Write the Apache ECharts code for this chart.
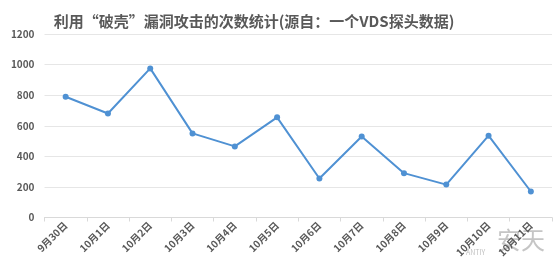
<!DOCTYPE html>
<html>
<head>
<meta charset="utf-8">
<script src="https://cdn.jsdelivr.net/npm/echarts@6/dist/echarts.min.js"></script>
<style>html,body{margin:0;padding:0;background:#fff}#c{width:559px;height:271px}</style>
</head>
<body>
<div id="c"></div>
<script>
var titleText = '利用“破壳”漏洞攻击的次数统计(源自：一个VDS探头数据)';
var categories = ['9月30日','10月1日','10月2日','10月3日','10月4日','10月5日','10月6日','10月7日','10月8日','10月9日','10月10日','10月11日'];
var values = [790, 680, 975, 550, 465, 655, 255, 530, 290, 215, 535, 170];
var yTicks = [0, 200, 400, 600, 800, 1000, 1200];

var chart = echarts.init(document.getElementById('c'), null, {renderer: 'canvas'});
var font = '"Noto Sans CJK SC", "Liberation Sans", sans-serif';
chart.setOption({
  animation: false,
  backgroundColor: '#fff',
  title: {
    text: titleText,
    left: 249, top: 9, textAlign: 'center',
    textStyle: {fontSize: 15, fontWeight: 'bold', color: '#595959', fontFamily: font}
  },
  grid: {left: 44.5, right: 7, top: 34, bottom: 53.5, containLabel: false},
  xAxis: {
    type: 'category',
    data: categories,
    boundaryGap: true,
    axisLine: {lineStyle: {color: '#d9d9d9', width: 1}},
    axisTick: {show: true, length: 4, alignWithLabel: false, lineStyle: {color: '#d9d9d9'}},
    axisLabel: {rotate: 45, interval: 0, fontSize: 10, fontWeight: 'bold', color: '#595959', fontFamily: font, margin: 6}
  },
  yAxis: {
    type: 'value',
    min: yTicks[0], max: yTicks[yTicks.length-1], interval: 200,
    axisLine: {show: false},
    axisTick: {show: false},
    splitLine: {lineStyle: {color: '#e6e6e6', width: 1}},
    axisLabel: {fontSize: 10, fontWeight: 'bold', color: '#595959', fontFamily: font, margin: 10,
      formatter: function (v) { return String(v); }}
  },
  series: [{
    type: 'line',
    data: values,
    symbol: 'circle',
    symbolSize: 6,
    lineStyle: {color: '#4f91d3', width: 2},
    itemStyle: {color: '#4f91d3'}
  }],
  graphic: [
    {type: 'text', left: 497, top: 228, style: {text: '安天', fontSize: 24, fill: 'rgba(150,150,150,0.55)', fontFamily: font}},
    {type: 'text', left: 466, top: 249, style: {text: 'ANTIY', fontSize: 7, fill: 'rgba(150,150,150,0.6)', fontFamily: font}}
  ]
});
</script>
</body>
</html>
